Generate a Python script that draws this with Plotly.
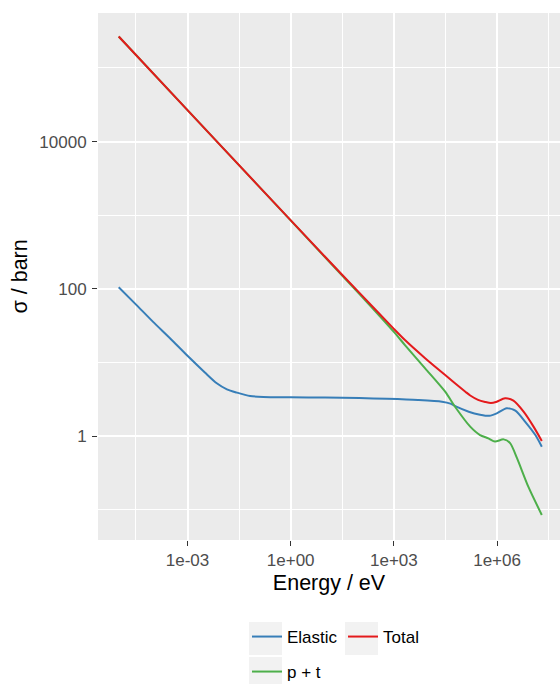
import plotly.graph_objects as go

# ---- data ----
elastic_E = [1e-5, 3.2e-5, 1e-4, 3.2e-4, 1e-3, 3.2e-3, 7.1e-3, 1.4e-2, 2.75e-2, 6.6e-2, 0.16, 1, 10, 100, 630,
             5.0e3, 2.5e4, 4.4e4, 6.3e4, 1.5e5, 3.2e5, 6.0e5, 9.8e5, 1.9e6, 3.4e6, 6.6e6,
             1.3e7, 2.0e7]
elastic_xs = [105, 61, 35.5, 21, 12.3, 7.3, 5.2, 4.3, 3.88, 3.49, 3.39, 3.36, 3.33, 3.28, 3.2,
              3.08, 2.92, 2.75, 2.52, 2.14, 1.95, 1.88, 2.03, 2.38, 2.21, 1.56,
              1.03, 0.716]

total_E = [1e-5, 1e-3, 0.1, 10, 100, 1000, 2.1e3, 8.1e3, 3.1e4, 1.2e5, 1.66e5, 2.8e5,
           4.5e5, 6.6e5, 9.8e5, 1.7e6, 3.0e6, 5.9e6, 1.15e7, 2.0e7]
total_xs = [2.68e5, 2.68e4, 2685, 272, 88, 28.5, 20.1, 11.4, 6.74, 4.0, 3.55, 3.1,
            2.9, 2.8, 2.92, 3.25, 3.02, 2.14, 1.34, 0.855]

pt_E = [1e-5, 1e-3, 0.1, 10, 100, 1000, 2.1e3, 8.1e3, 3.1e4, 6.0e4, 1.66e5, 3.2e5,
        5.6e5, 8.7e5, 1.55e6, 2.4e6, 3.8e6, 8.1e6, 2.0e7]
pt_xs = [2.68e5, 2.68e4, 2682, 268, 85, 26, 17.2, 8.3, 4.0, 2.5, 1.34, 1.03,
         0.93, 0.84, 0.90, 0.80, 0.50, 0.205, 0.0845]

x_tickvals = [1e-3, 1e0, 1e3, 1e6]
x_ticktext = ["1e-03", "1e+00", "1e+03", "1e+06"]
x_minor = [10**-4.5, 10**-1.5, 10**1.5, 10**4.5, 10**7.5]
y_tickvals = [1, 100, 10000]
y_ticktext = ["1", "100", "10000"]
y_minor = [0.1, 10, 1000, 100000]

colors = {"Elastic": "#377EB8", "Total": "#E41A1C", "p + t": "#4DAF4A"}

# ---- layout geometry ----
W, H = 560, 684
ML, MR, MT, MB = 98, 0, 13, 144
PW, PH = W - ML - MR, H - MT - MB

def px_x(p):
    return (p - ML) / PW

def px_y(p):
    return (H - MB - p) / PH

FONT = "Liberation Sans, Arial, Helvetica, sans-serif"

fig = go.Figure()
fig.add_trace(go.Scatter(x=elastic_E, y=elastic_xs, mode="lines", name="Elastic",
                         line=dict(color=colors["Elastic"], width=2, shape="spline", smoothing=0.7),
                         legend="legend"))
fig.add_trace(go.Scatter(x=pt_E, y=pt_xs, mode="lines", name="p + t",
                         line=dict(color=colors["p + t"], width=2, shape="spline", smoothing=0.7),
                         legend="legend3"))
fig.add_trace(go.Scatter(x=total_E, y=total_xs, mode="lines", name="Total",
                         line=dict(color=colors["Total"], width=2, shape="spline", smoothing=0.7),
                         legend="legend2"))

axis_common = dict(
    type="log", showline=False, zeroline=False,
    gridcolor="white", gridwidth=1.8,
    ticks="outside", ticklen=5, tickwidth=1.3, tickcolor="#333333",
    tickfont=dict(family=FONT, size=17, color="#4D4D4D"),
)

fig.update_xaxes(
    **axis_common,
    range=[-5.602, 7.83],
    tickmode="array", tickvals=x_tickvals, ticktext=x_ticktext,
    minor=dict(tickmode="array", tickvals=x_minor, showgrid=True,
               gridcolor="white", gridwidth=0.9, ticklen=0),
    title=dict(text="Energy / eV", font=dict(family=FONT, size=21.5, color="black"), standoff=5),
)
fig.update_yaxes(
    **axis_common,
    range=[-1.413, 5.747],
    tickmode="array", tickvals=y_tickvals, ticktext=y_ticktext,
    minor=dict(tickmode="array", tickvals=y_minor, showgrid=True,
               gridcolor="white", gridwidth=0.9, ticklen=0),
    ticklabelstandoff=2,
)

fig.add_annotation(text="σ / barn", xref="paper", yref="paper",
                   x=px_x(19), y=0.5, xanchor="center", yanchor="middle",
                   textangle=-90, showarrow=False,
                   font=dict(family=FONT, size=21.5, color="black"))

leg_common = dict(orientation="v", bgcolor="rgba(0,0,0,0)", borderwidth=0,
                  font=dict(family=FONT, size=17, color="black"),
                  xref="container", yref="container", xanchor="left", yanchor="top",
                  itemwidth=30)

fig.update_layout(
    width=W, height=H,
    margin=dict(l=ML, r=MR, t=MT, b=MB, autoexpand=False),
    paper_bgcolor="white", plot_bgcolor="#EBEBEB",
    showlegend=True,
    legend=dict(**leg_common, x=247 / W, y=1 - 619 / H),
    legend2=dict(**leg_common, x=343 / W, y=1 - 619 / H),
    legend3=dict(**leg_common, x=247 / W, y=1 - 654 / H),
)

# ggplot-style grey legend key boxes
for (x0, y0) in [(249, 622), (345, 622), (249, 657)]:
    fig.add_shape(type="rect", xref="paper", yref="paper",
                  x0=px_x(x0), x1=px_x(x0 + 33), y0=px_y(y0 + 33), y1=px_y(y0),
                  fillcolor="#F2F2F2", line=dict(width=0), layer="below")

fig.write_html("out.html")
